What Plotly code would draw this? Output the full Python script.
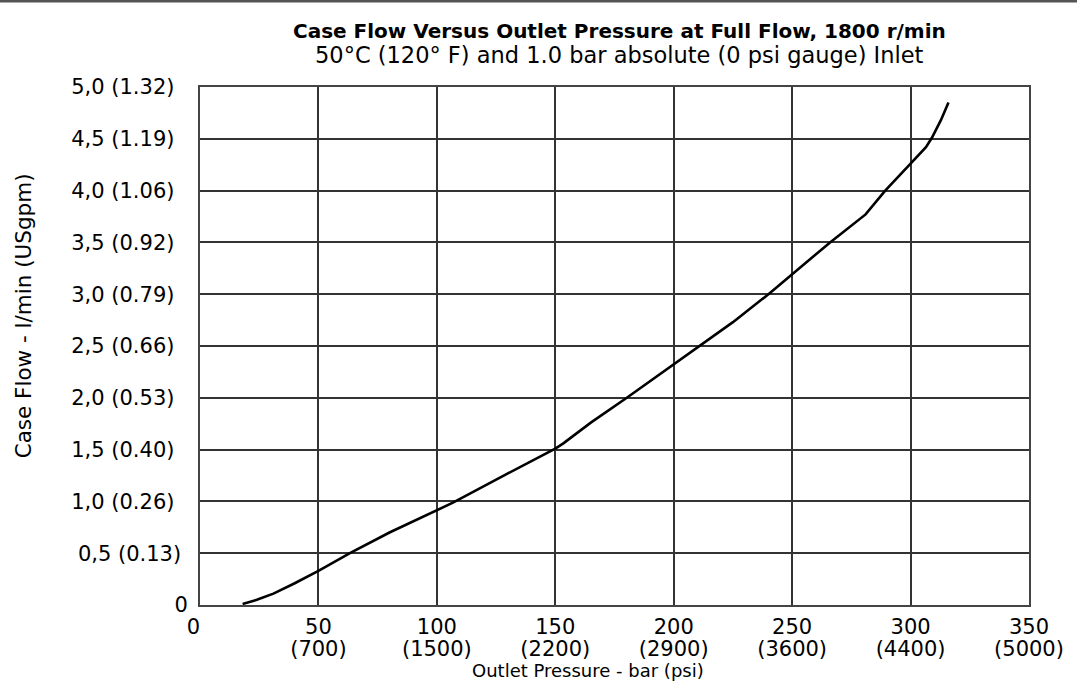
import plotly.graph_objects as go

# Case flow curve: outlet pressure (bar) vs case flow (l/min)
pressure_bar = [18.0, 24, 31, 40, 50, 63.3, 80, 100, 107, 130, 150, 153.4, 165,
                180.2, 200, 211, 225, 240, 250, 266, 281, 289.3, 300, 306.5,
                309, 312.8, 316]
case_flow_lpm = [0.01, 0.05, 0.11, 0.21, 0.33, 0.50, 0.70, 0.91, 0.99, 1.27, 1.51,
                 1.56, 1.76, 2.00, 2.32, 2.50, 2.73, 3.00, 3.19, 3.50, 3.77, 4.00,
                 4.26, 4.42, 4.51, 4.68, 4.85]

# Axis ticks: bar values with psi equivalents underneath
x_tick_vals = [0, 50, 100, 150, 200, 250, 300, 350]
x_tick_bar = ["0&nbsp;&nbsp;", "50", "100", "150", "200", "250", "300", "350"]
x_tick_psi = ["", "(700)", "(1500)", "(2200)", "(2900)", "(3600)", "(4400)", "(5000)"]

# Flow ticks: l/min with USgpm equivalents
y_tick_vals = [0, 0.5, 1.0, 1.5, 2.0, 2.5, 3.0, 3.5, 4.0, 4.5, 5.0]
y_tick_text = ["0", "0,5 (0.13)&nbsp;", "1,0 (0.26)&nbsp;&nbsp;", "1,5 (0.40)&nbsp;&nbsp;",
               "2,0 (0.53)&nbsp;&nbsp;", "2,5 (0.66)&nbsp;&nbsp;", "3,0 (0.79)&nbsp;&nbsp;",
               "3,5 (0.92)&nbsp;&nbsp;", "4,0 (1.06)&nbsp;&nbsp;", "4,5 (1.19)&nbsp;&nbsp;",
               "5,0 (1.32)&nbsp;&nbsp;"]

FONT = "DejaVu Sans"
TICK_FONT = dict(family=FONT, size=21, color="black")

fig = go.Figure()
fig.add_trace(go.Scatter(
    x=pressure_bar, y=case_flow_lpm, mode="lines",
    line=dict(color="black", width=2.6),
    showlegend=False, hoverinfo="skip",
))
# Same curve on the secondary (psi label) axis, drawn transparent
fig.add_trace(go.Scatter(
    x=pressure_bar, y=case_flow_lpm, mode="lines", xaxis="x2",
    line=dict(color="rgba(0,0,0,0)", width=0),
    showlegend=False, hoverinfo="skip",
))

axis_common = dict(showgrid=True, gridcolor="#333333", gridwidth=1.5,
                   showline=True, linecolor="#444444", linewidth=2, mirror=True,
                   zeroline=False, ticks="", tickfont=TICK_FONT)

fig.update_layout(
    xaxis=dict(range=[0, 350], tickmode="array", tickvals=x_tick_vals,
               ticktext=x_tick_bar, ticklabelstandoff=2, **axis_common),
    xaxis2=dict(range=[0, 350], overlaying="x", side="bottom", anchor="y",
                tickmode="array", tickvals=x_tick_vals, ticktext=x_tick_psi,
                showgrid=False, showline=False, zeroline=False, ticks="",
                tickfont=TICK_FONT, ticklabelstandoff=29),
    yaxis=dict(range=[0, 5], tickmode="array", tickvals=y_tick_vals,
               ticktext=y_tick_text, ticklabelstandoff=6, **axis_common),
)

fig.update_layout(
    width=1077, height=684,
    margin=dict(l=200, r=48, t=87, b=79, pad=0),
    paper_bgcolor="white", plot_bgcolor="white",
    font=dict(family=FONT, color="black"),
    annotations=[
        dict(text="<b>Case Flow Versus Outlet Pressure at Full Flow, 1800 r/min</b>",
             xref="paper", yref="paper", x=0.5065, y=1 + (87 - 31) / 518.3,
             xanchor="center", yanchor="middle", showarrow=False,
             font=dict(family=FONT, size=20, color="black")),
        dict(text="50°C (120° F) and 1.0 bar absolute (0 psi gauge) Inlet",
             xref="paper", yref="paper", x=0.5065, y=1 + (87 - 55) / 518.3,
             xanchor="center", yanchor="middle", showarrow=False,
             font=dict(family=FONT, size=22.5, color="black")),
        dict(text="Case Flow - l/min (USgpm)", textangle=-90,
             xref="paper", yref="paper", x=(23 - 200) / 829, y=(605.3 - 316.5) / 518.3,
             xanchor="center", yanchor="middle", showarrow=False,
             font=dict(family=FONT, size=21.5, color="black")),
        dict(text="Outlet Pressure - bar (psi)",
             xref="paper", yref="paper", x=(587.5 - 200) / 829, y=(605.3 - 658) / 518.3,
             xanchor="center", yanchor="top", showarrow=False,
             font=dict(family=FONT, size=18, color="black")),
    ],
    shapes=[
        dict(type="line", xref="paper", yref="paper", x0=-0.25, x1=1.1,
             y0=1 + 86 / 518.3, y1=1 + 86 / 518.3,
             line=dict(color="#555555", width=3)),
    ],
)

fig.write_html("out.html")
